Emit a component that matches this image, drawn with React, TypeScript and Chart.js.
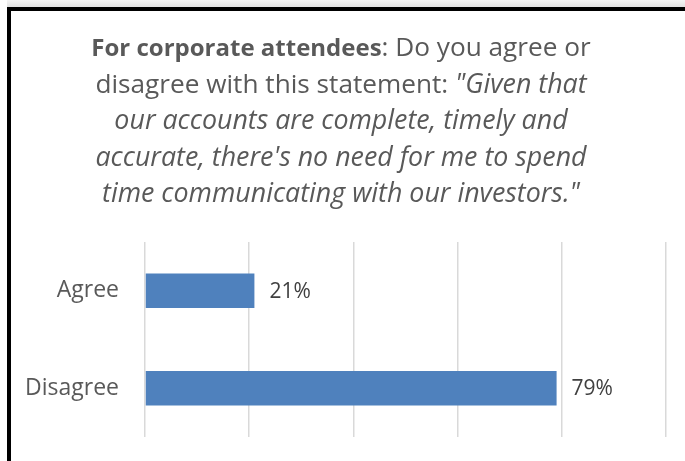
import React, { useEffect, useRef } from "react";
import { Chart, registerables } from "chart.js";

Chart.register(...registerables);

// ---- data ----
const categories = ["Agree", "Disagree"];
const values = [21, 79];
const valueLabels = ["21%", "79%"];
const xTickValues = [0, 20, 40, 60, 80, 100];

type Seg = { text: string; bold?: boolean; italic?: boolean };
const titleLines: Seg[][] = [
  [{ text: "For corporate attendees", bold: true }, { text: ": Do you agree or" }],
  [{ text: "disagree with this statement: " }, { text: "\"Given that", italic: true }],
  [{ text: "our accounts are complete, timely and", italic: true }],
  [{ text: "accurate, there's no need for me to spend", italic: true }],
  [{ text: "time communicating with our investors.\"", italic: true }],
];

const FONT = '"Open Sans", "DejaVu Sans", sans-serif';

const segFont = (s: Seg) => {
  if (s.bold) return `bold 24px ${FONT}`;
  if (s.italic) return `italic 26.8px ${FONT}`;
  return `26.2px ${FONT}`;
};

const framePlugin = {
  id: "frame",
  beforeDraw(chart: any) {
    const ctx: CanvasRenderingContext2D = chart.ctx;
    const w = chart.width;
    const h = chart.height;
    ctx.save();
    ctx.fillStyle = "#ffffff";
    ctx.fillRect(0, 0, w, h);
    const g = ctx.createLinearGradient(0, 0, 0, 7);
    g.addColorStop(0, "#f5f5f5");
    g.addColorStop(1, "#e2e2e2");
    ctx.fillStyle = g;
    ctx.fillRect(7, 0, w - 7, 7);
    ctx.fillStyle = "#000000";
    ctx.fillRect(7, 7, w - 7, 4);
    ctx.fillRect(7, 7, 4, h - 7);
    ctx.restore();
  },
};

const titlePlugin = {
  id: "richTitle",
  afterDraw(chart: any) {
    const ctx: CanvasRenderingContext2D = chart.ctx;
    ctx.save();
    ctx.fillStyle = "#595959";
    ctx.textBaseline = "alphabetic";
    ctx.textAlign = "left";
    const cx = 341;
    titleLines.forEach((line, i) => {
      const fonts = line.map(segFont);
      const widths = line.map((s, k) => {
        ctx.font = fonts[k];
        return ctx.measureText(s.text).width;
      });
      const total = widths.reduce((a, b) => a + b, 0);
      let x = cx - total / 2;
      const y = 56 + i * 36.5;
      line.forEach((s, k) => {
        ctx.font = fonts[k];
        ctx.fillText(s.text, x, y);
        x += widths[k];
      });
    });
    ctx.restore();
  },
};

const valueLabelPlugin = {
  id: "valueLabels",
  afterDatasetsDraw(chart: any) {
    const ctx: CanvasRenderingContext2D = chart.ctx;
    const meta = chart.getDatasetMeta(0);
    ctx.save();
    ctx.fillStyle = "#404040";
    ctx.font = `21px ${FONT}`;
    ctx.textAlign = "left";
    ctx.textBaseline = "middle";
    meta.data.forEach((bar: any, i: number) => {
      ctx.fillText(valueLabels[i], bar.x + 15, bar.y + 1);
    });
    ctx.restore();
  },
};

export default function App() {
  const ref = useRef<HTMLCanvasElement | null>(null);

  useEffect(() => {
    if (!ref.current) return;
    const chart = new Chart(ref.current, {
      type: "bar",
      data: {
        labels: categories,
        datasets: [
          {
            data: values,
            backgroundColor: "#4F81BD",
            borderWidth: 0,
            barPercentage: 0.356,
            categoryPercentage: 1,
          },
        ],
      },
      options: {
        indexAxis: "y",
        responsive: false,
        animation: false,
        devicePixelRatio: 1,
        layout: { padding: { top: 242, bottom: 24, left: 0, right: 19 } },
        plugins: {
          legend: { display: false },
          tooltip: { enabled: false },
          title: { display: false },
        },
        scales: {
          x: {
            type: "linear",
            min: 0,
            max: 100,
            afterBuildTicks(scale: any) {
              scale.ticks = xTickValues.map((v) => ({ value: v }));
            },
            ticks: { display: false },
            grid: { color: "#d9d9d9", lineWidth: 1.5, drawTicks: false },
            border: { display: false },
            afterFit(scale: any) {
              scale.height = 0;
              scale.paddingLeft = 0;
              scale.paddingRight = 0;
            },
          },
          y: {
            type: "category",
            grid: { display: false, drawTicks: false },
            border: { display: false },
            ticks: {
              color: "#595959",
              font: { family: FONT, size: 23 },
              padding: 26,
            },
            afterFit(scale: any) {
              scale.width = 145;
              scale.paddingTop = 0;
              scale.paddingBottom = 0;
            },
          },
        },
      },
      plugins: [framePlugin, titlePlugin, valueLabelPlugin],
    } as any);
    return () => chart.destroy();
  }, []);

  return (
    <div
      style={{
        position: "fixed",
        left: 0,
        top: 0,
        width: 685,
        height: 461,
        overflow: "hidden",
      }}
    >
      <canvas ref={ref} width={685} height={461} style={{ display: "block" }} />
    </div>
  );
}
